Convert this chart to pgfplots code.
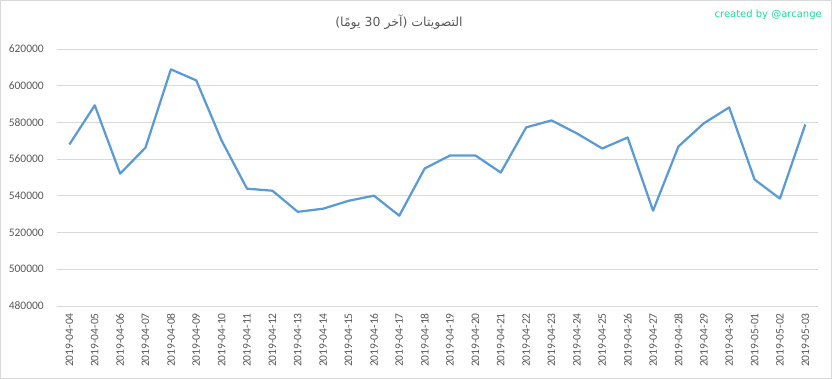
\documentclass[border=0pt]{standalone}
\usepackage{pgfplots}
\pgfplotsset{compat=1.18}
\usepackage{fontspec}
\setmainfont{Carlito}
\newfontfamily\arabicfont[Script=Arabic]{DejaVu Sans}
\newfontfamily\credfont{DejaVu Sans}
\TeXXeTstate=1
\definecolor{linec}{HTML}{5B9BD5}
\definecolor{gridc}{HTML}{D9D9D9}
\definecolor{labc}{HTML}{595959}
\definecolor{credc}{HTML}{1ED79E}
\definecolor{borderc}{HTML}{D9D9D9}
\begin{document}
\begin{tikzpicture}[x=1pt,y=1pt]
\draw[borderc, line width=1pt] (0.5,0.5) rectangle (831.5,378.5);
\begin{axis}[
  at={(56.7pt,73pt)}, anchor=south west,
  scale only axis, width=761.3pt, height=257pt,
  xmin=-0.5, xmax=29.5, ymin=480000, ymax=620000,
  ytick={480000,500000,520000,540000,560000,580000,600000,620000},
  xtick={0,...,29},
  xticklabels={2019-04-04,2019-04-05,2019-04-06,2019-04-07,2019-04-08,2019-04-09,2019-04-10,2019-04-11,2019-04-12,2019-04-13,2019-04-14,2019-04-15,2019-04-16,2019-04-17,2019-04-18,2019-04-19,2019-04-20,2019-04-21,2019-04-22,2019-04-23,2019-04-24,2019-04-25,2019-04-26,2019-04-27,2019-04-28,2019-04-29,2019-04-30,2019-05-01,2019-05-02,2019-05-03},
  scaled y ticks=false,
  yticklabel={\pgfmathprintnumber[fixed,1000 sep={},precision=0]{\tick}},
  /pgf/number format/assume math mode=true,
  major tick length=0pt,
  axis line style={draw=none},
  ymajorgrids, grid style={gridc, line width=0.75pt},
  tick label style={font=\fontsize{11.5}{12}\selectfont, text=labc},
  yticklabel style={anchor=east, inner sep=0pt, xshift=-12.7pt},
  xticklabel style={rotate=90, anchor=east, inner sep=0pt, xshift=-7pt},
  clip=false,
]
\addplot[linec, line width=2.25pt, line join=round] coordinates {
(0,568000) (1,589300) (2,552100) (3,566300) (4,608900) (5,602900) (6,570100) (7,543900) (8,542800) (9,531300)
(10,533000) (11,537300) (12,540100) (13,529200) (14,554900) (15,562000) (16,562000) (17,552700) (18,577300) (19,581100)
(20,574000) (21,565800) (22,571800) (23,531900) (24,566900) (25,579500) (26,588200) (27,548900) (28,538500) (29,578900)
};
\end{axis}
\node[text=labc, font=\arabicfont\fontsize{12.5}{14}\selectfont] at (399,357) {\beginR التصويتات (آخر \beginL 30\endL{} يومًا)\endR};
\node[text=credc, font=\credfont\fontsize{10}{12}\selectfont, anchor=east, inner sep=0pt] at (822,364) {created by @arcange};
\end{tikzpicture}
\end{document}
